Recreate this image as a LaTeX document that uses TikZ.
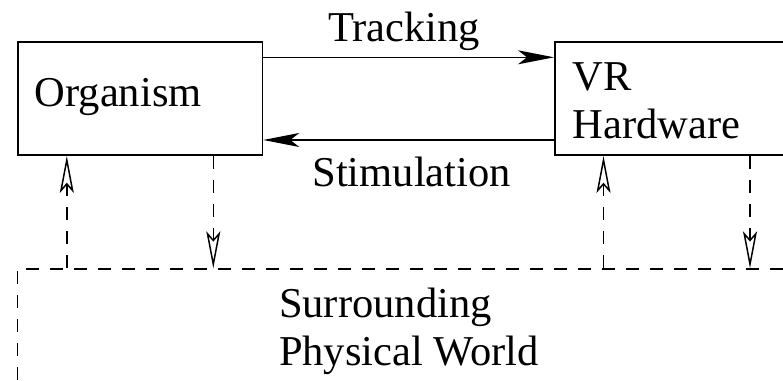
\documentclass[tikz,border=0pt]{standalone}
\usepackage{fontspec}
\setmainfont{Liberation Serif}
\usetikzlibrary{arrows.meta,calc}

\begin{document}
\begin{tikzpicture}[x=0.02cm, y=-0.02cm, line width=0.85pt,
	font=\fontsize{24.2}{27.3}\selectfont,
	box/.style={draw, rectangle, minimum width=4.89cm, minimum height=2.27cm, inner sep=0pt, anchor=north west},
	world/.style={draw, dash pattern=on 0.26cm off 0.22cm, minimum width=16cm, minimum height=3cm, inner sep=0pt, anchor=north west},
	txt/.style={inner sep=0pt, align=left},
	flow/.style={-{Stealth[length=0.72cm, width=0.28cm, inset=0.18cm]}},
	feed/.style={dash pattern=on 0.26cm off 0.22cm, -{Stealth[open, fill=white, length=0.74cm, width=0.28cm, inset=0.16cm]}}]
	\useasboundingbox (0,0) rectangle (783,380);
	\clip (0,0) rectangle (783,380);
	% the three parts
	\node[box] (org) at (17.3,41) {};
	\node[box] (vr) at (554,41) {};
	\node[world] (world) at (16.7,268.3) {};
	\node[txt, anchor=base west] (orgtxt) at (34,106) {Organism};
	\node[txt, anchor=base west] (vrtxt) at (571.7,138.3) {VR\\Hardware};
	\node[txt, anchor=base west] (worldtxt) at (278.3,365) {Surrounding\\Physical World};
	% loop between organism and hardware
	\node[txt, anchor=base] (track) at (404,41.7) {Tracking};
	\node[txt, anchor=base] (stim) at (411.7,186.7) {Stimulation};
	\draw[flow] ($(org.north east)+(0,16.3)$) -- ($(vr.north west)+(0,16.3)$);
	\draw[flow] ($(vr.south west)+(0,-16)$) -- ($(org.south east)+(0,-16)$);
	% exchange with the physical world
	\foreach \b in {org,vr}{
		\coordinate (\b up) at ($(\b.south west)+(49.5,0)$);
		\coordinate (\b down) at ($(\b.south west)+(196,0)$);
		\draw[feed] (\b up |- world.north) -- (\b up);
		\draw[feed] (\b down) -- (\b down |- world.north);
	}
\end{tikzpicture}
\end{document}
